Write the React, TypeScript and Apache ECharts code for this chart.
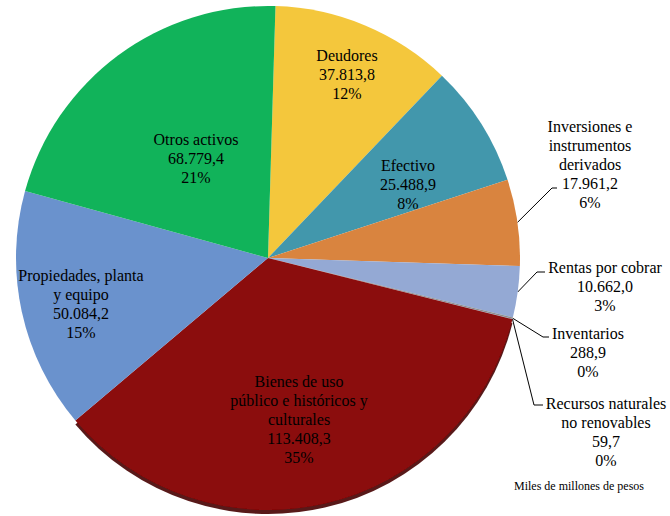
import React, { useEffect, useRef } from "react";
import * as echarts from "echarts";

const categories = [
  "Deudores",
  "Efectivo",
  "Inversiones e\ninstrumentos\nderivados",
  "Rentas por cobrar",
  "Inventarios",
  "Recursos naturales\nno renovables",
  "Bienes de uso\npúblico e históricos y\nculturales",
  "Propiedades, planta\ny equipo",
  "Otros activos",
];
const values = [37813.8, 25488.9, 17961.2, 10662.0, 288.9, 59.7, 113408.3, 50084.2, 68779.4];
const colors = ["#F4C73C", "#4297AC", "#D9843F", "#94A9D4", "#8C8C8C", "#5B7FB5", "#8B0808", "#6A92CD", "#11B35A"];
const unitLabel = "Miles de millones de pesos";

const CX = 268;
const CY = 258;
const R = 252;
const START = 88.3;

// label block centres (text layout, not marks)
const labelCentre: number[][] = [
  [347, 74],
  [408, 184],
  [590, 164],
  [605, 286],
  [588, 352],
  [606, 432],
  [299, 419],
  [81, 304],
  [196, 158],
];
// leader elbow + end for outside labels
const leader: (number[][] | null)[] = [
  null,
  null,
  [[552, 188], [557, 188]],
  [[537, 272], [545, 272]],
  [[543, 337], [549, 337]],
  [[534, 405], [543, 405]],
  null,
  null,
  null,
];

function fmt(v: number): string {
  const [i, d] = v.toFixed(1).split(".");
  return i.replace(/\B(?=(\d{3})+(?!\d))/g, ".") + "," + d;
}

export default function App() {
  const ref = useRef<HTMLDivElement>(null);
  useEffect(() => {
    if (!ref.current) return;
    const chart = echarts.init(ref.current, undefined, { renderer: "svg" });
    const total = values.reduce((a, b) => a + b, 0);
    const edge: number[][] = [];
    let cum = 0;
    values.forEach((v) => {
      const mid = START - (360 * (cum + v / 2)) / total;
      const rad = (mid * Math.PI) / 180;
      edge.push([CX + R * Math.cos(rad), CY - R * Math.sin(rad)]);
      cum += v;
    });
    const data = categories.map((name, i) => ({
      name,
      value: values[i],
      itemStyle:
        i === 6
          ? { color: colors[i], shadowColor: "rgba(70,0,0,0.9)", shadowOffsetY: 4, shadowBlur: 1 }
          : { color: colors[i] },
      label: { position: leader[i] ? "outside" : "inside" },
      labelLine: { show: !!leader[i] },
    }));
    chart.setOption({
      animation: false,
      graphic: [
        {
          type: "text",
          x: 579,
          y: 486,
          style: {
            text: unitLabel,
            font: "12px 'Liberation Serif'",
            fill: "#000",
            align: "center",
            verticalAlign: "middle",
          },
        },
      ],
      series: [
        {
          type: "pie",
          center: [CX, CY],
          radius: R,
          startAngle: START,
          clockwise: true,
          avoidLabelOverlap: false,
          data,
          itemStyle: { borderWidth: 0 },
          label: {
            show: true,
            fontFamily: "Liberation Serif",
            fontSize: 16,
            lineHeight: 19,
            color: "#000",
            align: "center",
            formatter: (p: any) => `${p.name}\n${fmt(p.value)}\n${Math.round(p.percent)}%`,
          },
          labelLine: {
            lineStyle: { color: "#000", width: 1 },
          },
          labelLayout: (p: any) => {
            const i = p.dataIndex;
            const res: any = {
              x: labelCentre[i][0],
              y: labelCentre[i][1],
              align: "center",
              verticalAlign: "middle",
            };
            if (leader[i]) {
              res.labelLinePoints = [edge[i], leader[i]![0], leader[i]![1]];
            }
            return res;
          },
        },
      ],
    });
    return () => chart.dispose();
  }, []);
  return (
    <div
      ref={ref}
      style={{ position: "fixed", left: 0, top: 0, width: 670, height: 516, background: "#fff" }}
    />
  );
}
